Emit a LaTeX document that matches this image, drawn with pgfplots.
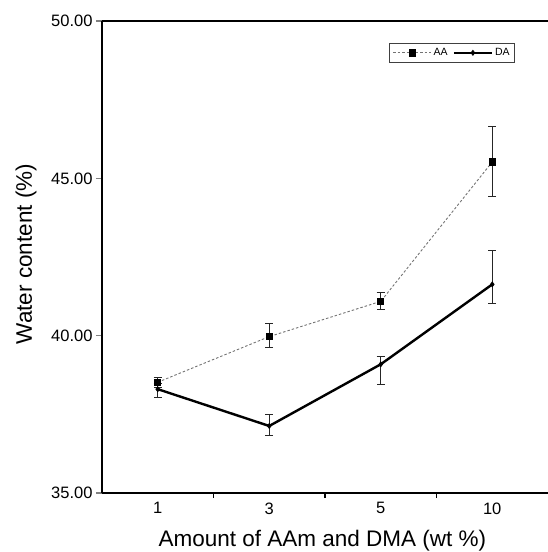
\documentclass[border=0pt]{standalone}
\usepackage{fontspec}
\setmainfont{Liberation Sans}
\usepackage{pgfplots}
\usepackage{pgfplotstable}
\pgfplotsset{compat=1.18}
\pgfplotstableread{
x y ep em
1 38.52 0.15 0.15
2 39.97 0.42 0.35
3 41.09 0.28 0.25
4 45.52 1.12 1.08
}\AAdata
\pgfplotstableread{
x y ep em
1 38.30 0.18 0.25
2 37.13 0.36 0.29
3 39.09 0.24 0.63
4 41.63 1.08 0.60
}\DAdata
\begin{document}
\begin{tikzpicture}
\begin{axis}[
  at={(0,0)}, anchor=south west,
  scale only axis, width=446pt, height=472pt,
  xmin=0.5, xmax=4.5, ymin=35, ymax=50,
  axis lines*=left,
  axis line style={line width=2.2pt},
  tick align=outside,
  xtick={1,2,3,4}, xticklabels={1,3,5,10},
  minor xtick={1.5,2.5,3.5},
  major x tick style={draw=none},
  minor x tick style={draw=black, line width=1.5pt},
  ytick={35,40,45,50},
  y tick style={line width=1.5pt},
  major tick length=6pt, minor tick length=5pt,
  /pgf/number format/assume math mode=true,
  tick label style={font=\fontsize{16.5}{19}\selectfont},
  yticklabel style={/pgf/number format/.cd, fixed, fixed zerofill, precision=2},
  xlabel={Amount of AAm and DMA (wt \%)},
  ylabel={Water content (\%)},
  label style={font=\fontsize{22.5}{27}\selectfont},
  xlabel style={at={([yshift=-53pt]axis description cs:0.494,0)}, anchor=base},
  ylabel style={at={([xshift=-70pt]axis description cs:0,0.506)}, anchor=base},
  legend style={at={(rel axis cs:0.926,0.953)}, anchor=north east,
    font=\fontsize{10.5}{12}\selectfont, draw=black!75, line width=0.6pt,
    inner sep=3pt, legend columns=2,
    /tikz/every even column/.append style={column sep=3pt}},
  legend image code/.code={\draw[mark repeat=2,mark phase=2,#1] plot coordinates {(0pt,0pt) (19pt,0pt) (38pt,0pt)};},
  clip=false,
]
\draw[line width=2.2pt] (rel axis cs:0,1) -- (rel axis cs:1,1);
\addplot[black!55, line width=0.9pt, dash pattern=on 2.5pt off 2pt,
  mark=square*, mark size=3.2pt, mark options={solid, fill=black, draw=black},
  error bars/.cd, y dir=both, y explicit,
  error bar style={solid, black!85, line width=0.8pt},
  error mark options={solid, black!85, line width=0.8pt, mark size=4pt, rotate=90}]
  table[x=x, y=y, y error plus=ep, y error minus=em] {\AAdata};
\addlegendentry{AA}
\addplot[black, line width=2.4pt,
  mark=diamond*, mark size=2.6pt, mark options={solid, fill=black, line width=0.6pt},
  error bars/.cd, y dir=both, y explicit,
  error bar style={solid, black!85, line width=0.8pt},
  error mark options={solid, black!85, line width=0.8pt, mark size=4pt, rotate=90}]
  table[x=x, y=y, y error plus=ep, y error minus=em] {\DAdata};
\addlegendentry{DA}
\end{axis}
\pgfresetboundingbox
\path[use as bounding box] (-102pt,-59pt) rectangle (446pt,493pt);
\end{tikzpicture}
\end{document}
